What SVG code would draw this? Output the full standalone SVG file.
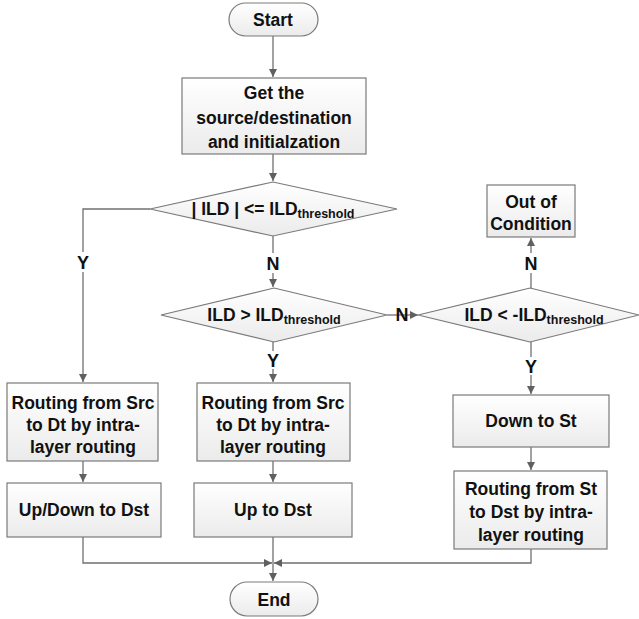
<svg xmlns="http://www.w3.org/2000/svg" width="639" height="619" viewBox="0 0 639 619">
<style>
.shape{fill:url(#g);stroke:#7a7a7a;stroke-width:1.2}
.t{font-family:"Liberation Sans",Arial,sans-serif;font-weight:bold;font-size:17.5px;fill:#111;text-anchor:middle}
.sub{font-size:12.5px}
.c{fill:none;stroke:#707070;stroke-width:1.3}
.lbl{font-family:"Liberation Sans",Arial,sans-serif;font-weight:bold;font-size:18px;fill:#111;text-anchor:middle}
</style>
<defs>
<linearGradient id="g" x1="0" y1="0" x2="0" y2="1">
<stop offset="0" stop-color="#ffffff"/>
<stop offset="1" stop-color="#ebebeb"/>
</linearGradient>
<marker id="a" viewBox="0 0 10 10" refX="10" refY="5" markerWidth="8" markerHeight="8" markerUnits="userSpaceOnUse" orient="auto">
<path d="M0,0 L10,5 L0,10 z" fill="#606060"/>
</marker>
</defs>
<rect x="0" y="0" width="639" height="619" fill="#ffffff"/>
<g id="connectors">
<path class="c" d="M273,36 V77" marker-end="url(#a)"/>
<path class="c" d="M273,154 V181" marker-end="url(#a)"/>
<path class="c" d="M150,209 H83 V382" marker-end="url(#a)"/>
<path class="c" d="M273,236 V287" marker-end="url(#a)"/>
<path class="c" d="M387,315 H418" marker-end="url(#a)"/>
<path class="c" d="M273,342 V382" marker-end="url(#a)"/>
<path class="c" d="M531,288 V238" marker-end="url(#a)"/>
<path class="c" d="M531,342 V394" marker-end="url(#a)"/>
<path class="c" d="M531,447 V470" marker-end="url(#a)"/>
<path class="c" d="M83,461 V482" marker-end="url(#a)"/>
<path class="c" d="M273,461 V482" marker-end="url(#a)"/>
<path class="c" d="M83,537 V563 H272" marker-end="url(#a)"/>
<path class="c" d="M531,549 V563 H274" marker-end="url(#a)"/>
<path class="c" d="M273,537 V581" marker-end="url(#a)"/>
<rect x="75" y="252" width="16" height="20" fill="#fff"/>
<text class="lbl" x="83" y="269">Y</text>
<rect x="265" y="253" width="16" height="20" fill="#fff"/>
<text class="lbl" x="273" y="270">N</text>
<text class="lbl" x="402" y="321">N</text>
<rect x="265" y="351" width="16" height="18" fill="#fff"/>
<text class="lbl" x="273" y="367">Y</text>
<rect x="523" y="253" width="16" height="20" fill="#fff"/>
<text class="lbl" x="531" y="270">N</text>
<rect x="523" y="357" width="16" height="18" fill="#fff"/>
<text class="lbl" x="531" y="373">Y</text>
</g>
<g id="start">
<rect class="shape" x="229" y="3" width="89" height="33" rx="16.5"/>
<text class="t" x="273" y="26">Start</text>
</g>
<g id="init">
<rect class="shape" x="182" y="78" width="184" height="76"/>
<text class="t" x="274" y="99">Get the</text>
<text class="t" x="274" y="124">source/destination</text>
<text class="t" x="274" y="148">and initialzation</text>
</g>
<g id="cond1">
<polygon class="shape" points="273,182 397,209 273,236 150,209"/>
<text class="t" x="273" y="215">| ILD | &lt;= ILD<tspan class="sub" dy="3">threshold</tspan></text>
</g>
<g id="cond2">
<polygon class="shape" points="274,288 387,315 274,342 161,315"/>
<text class="t" x="274" y="321">ILD &gt; ILD<tspan class="sub" dy="3">threshold</tspan></text>
</g>
<g id="cond3">
<polygon class="shape" points="530,288 639,315 530,342 418,315"/>
<text class="t" x="534" y="321">ILD &lt; -ILD<tspan class="sub" dy="3">threshold</tspan></text>
</g>
<g id="outcond">
<rect class="shape" x="487" y="185" width="88" height="52"/>
<text class="t" x="531" y="208">Out of</text>
<text class="t" x="531" y="230">Condition</text>
</g>
<g id="leftroute">
<rect class="shape" x="7" y="383" width="151" height="78"/>
<text class="t" x="83" y="409">Routing from Src</text>
<text class="t" x="83" y="431">to Dt by intra-</text>
<text class="t" x="83" y="453">layer routing</text>
</g>
<g id="updown">
<rect class="shape" x="7" y="483" width="154" height="54"/>
<text class="t" x="84" y="516">Up/Down to Dst</text>
</g>
<g id="midroute">
<rect class="shape" x="197" y="383" width="153" height="78"/>
<text class="t" x="273" y="409">Routing from Src</text>
<text class="t" x="273" y="431">to Dt by intra-</text>
<text class="t" x="273" y="453">layer routing</text>
</g>
<g id="updst">
<rect class="shape" x="194" y="483" width="158" height="54"/>
<text class="t" x="273" y="516">Up to Dst</text>
</g>
<g id="downst">
<rect class="shape" x="453" y="395" width="156" height="52"/>
<text class="t" x="531" y="427">Down to St</text>
</g>
<g id="stroute">
<rect class="shape" x="454" y="471" width="153" height="78"/>
<text class="t" x="531" y="495">Routing from St</text>
<text class="t" x="531" y="518">to Dst by intra-</text>
<text class="t" x="531" y="541">layer routing</text>
</g>
<g id="end">
<rect class="shape" x="230" y="582" width="88" height="34" rx="17"/>
<text class="t" x="274" y="606">End</text>
</g>
</svg>
